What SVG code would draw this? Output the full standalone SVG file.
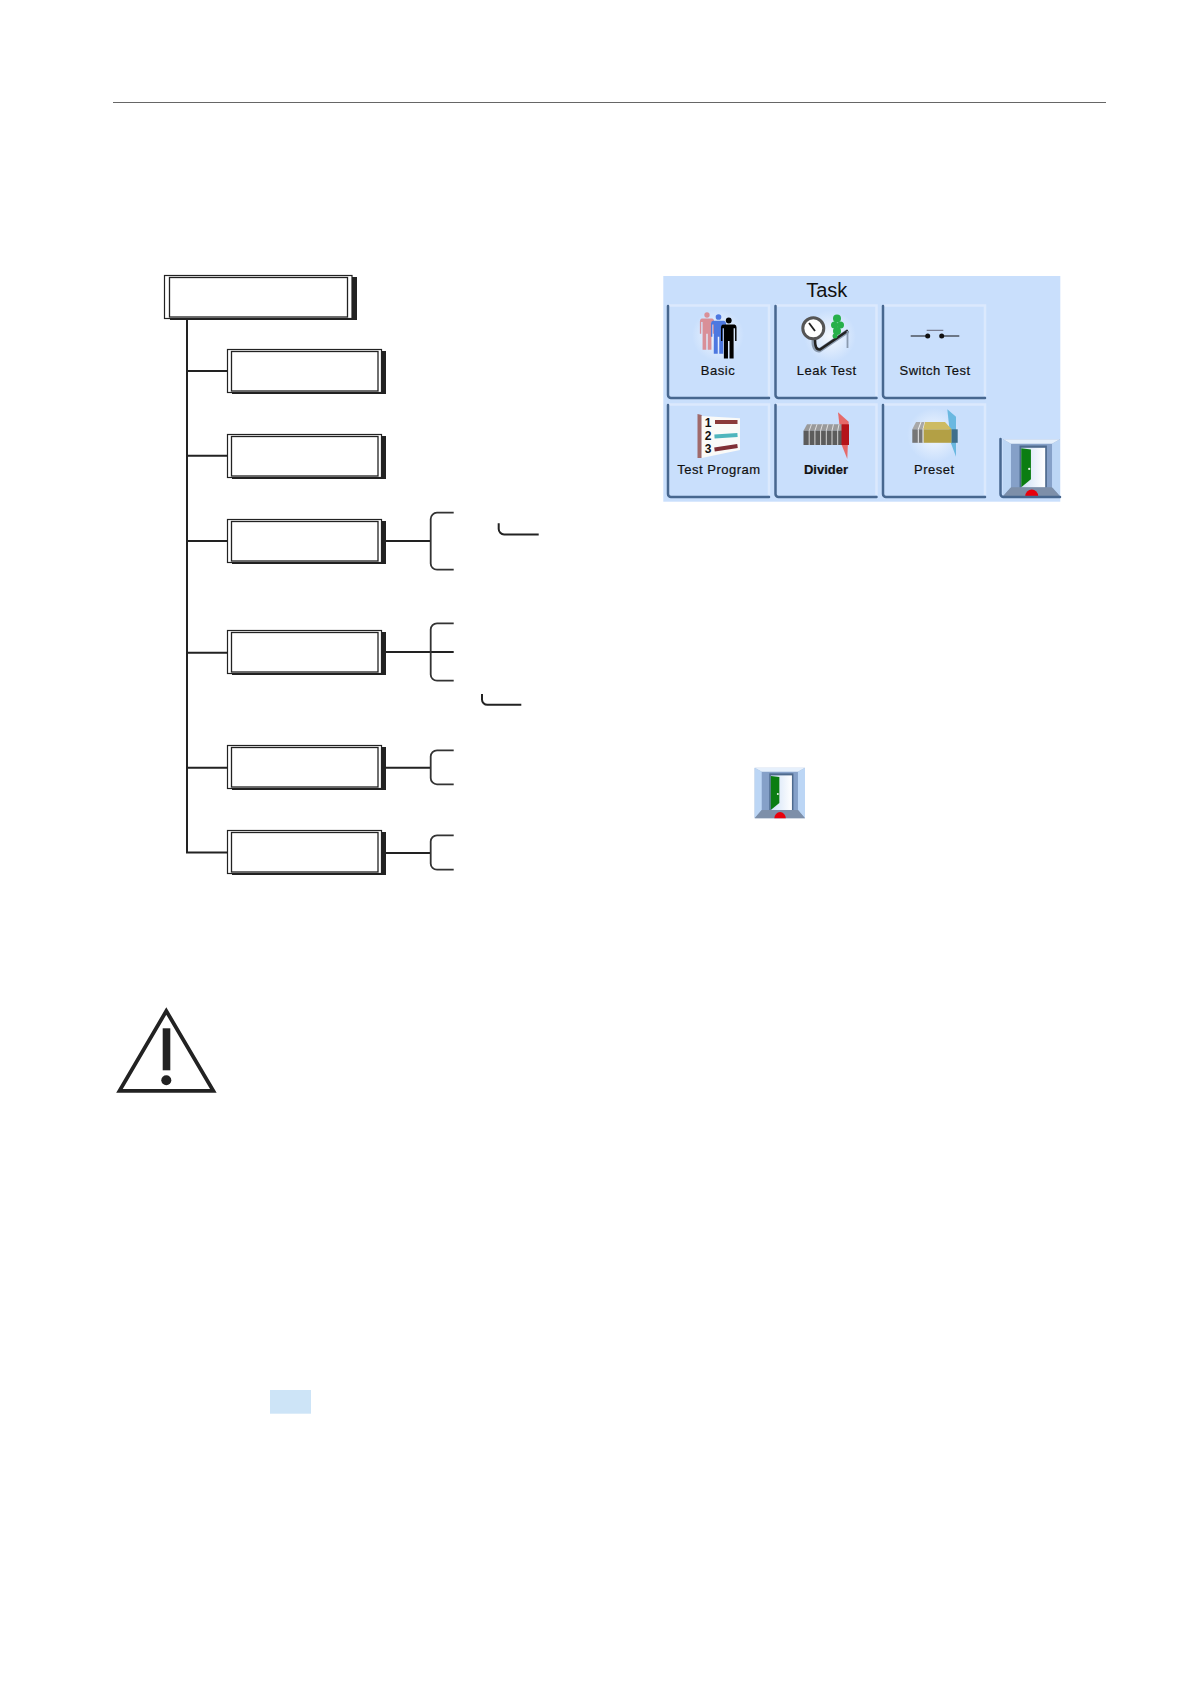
<svg xmlns="http://www.w3.org/2000/svg" xmlns:xlink="http://www.w3.org/1999/xlink" width="1191" height="1684" viewBox="0 0 1191 1684">
<style>
.conn{fill:none;stroke:#222;stroke-width:2}
.brk{fill:none;stroke:#333;stroke-width:1.8}
.shadow{fill:#222}
.outer{fill:#fff;stroke:#222;stroke-width:1.200}
.inner{fill:#fff;stroke:#222;stroke-width:1.300}
.btn{fill:#c9dffc;stroke:none}
.hl{fill:none;stroke:#dbe9fd;stroke-width:2.500}
.edge{fill:none;stroke:#47678f;stroke-width:2.500;stroke-linecap:round}
.lbl{font-family:"Liberation Sans",Arial,sans-serif;font-size:13px;letter-spacing:.5px;text-anchor:middle;fill:#111;stroke:#111;stroke-width:.2}
.num{font-family:"Liberation Sans",Arial,sans-serif;font-size:12px;font-weight:700;text-anchor:middle;fill:#111}
</style>
<defs>
<radialGradient id="glow"><stop offset="0" stop-color="#f4f8fe"/><stop offset="1" stop-color="#c9dffc"/></radialGradient>
<linearGradient id="open" x1="0" x2="1"><stop offset="0" stop-color="#cfe0f6"/><stop offset="1" stop-color="#fff"/></linearGradient>
<symbol id="door" viewBox="0 0 50 50" overflow="visible">
<rect width="50" height="50" fill="#85a0c8"/>
<polygon points="0,0 7,4 7,42 0,50" fill="#bcd6f5"/>
<polygon points="50,0 43,4 43,42 50,50" fill="#bcd6f5"/>
<polygon points="0,0 50,0 43,4 7,4" fill="#e6f0fc"/>
<rect x="14.5" y="5.500" width="24" height="37" fill="#4e6a8e"/>
<rect x="16" y="7.500" width="21" height="35" fill="url(#open)"/>
<polygon points="16,8 24.500,9 24.500,35 16,42" fill="#0b7d12"/>
<circle cx="23" cy="26" r="1" fill="#e8f5e8"/>
<polygon points="7,42 43,42 50,50 0,50" fill="#7d8fa9"/>
<path d="M19.500 50a5.700 6 0 0 1 11.400 0z" fill="#e8000c"/>
</symbol>
<symbol id="person" viewBox="0 0 18 42" overflow="visible">
<circle cx="9" cy="3" r="3"/>
<path d="M3 7H15Q17 7.500 17 10V24H15.500V11H14V42H9.800V24H8.200V42H4V11H2.500V24H1V10Q1 7.500 3 7Z"/>
</symbol>
</defs>
<rect width="1191" height="1684" fill="#fff"/>
<line id="header-rule" x1="113" y1="102.500" x2="1106" y2="102.500" stroke="#666" stroke-width="1"/>

<g id="connectors">
<path class="conn" d="M187 320V852.500H228"/>
<path class="conn" d="M187 371H228M187 455.700H228M187 541H228M187 652.700H228M187 767.700H228"/>
<path class="conn" d="M386 541H430.700M386 652H453.700M386 767.700H430.700M386 853H430.700"/>
<path class="brk" d="M453.700 512.700H437a6.300 6.300 0 0 0-6.300 6.300V563.400a6.300 6.300 0 0 0 6.300 6.300H453.700"/>
<path class="brk" d="M453.700 623.300H437a6.300 6.300 0 0 0-6.300 6.300V674.400a6.300 6.300 0 0 0 6.300 6.300H453.700"/>
<path class="brk" d="M453.700 750.300H437a6.300 6.300 0 0 0-6.300 6.300V778a6.300 6.300 0 0 0 6.300 6.300H453.700"/>
<path class="brk" d="M453.700 835.300H437a6.300 6.300 0 0 0-6.300 6.300V863.400a6.300 6.300 0 0 0 6.300 6.300H453.700"/>
<path class="conn" d="M498.700 523.300V529a5.400 5.400 0 0 0 5.400 5.400H538.700"/>
<path class="conn" d="M482 694V699.400a5.400 5.400 0 0 0 5.400 5.400H521.300"/>
</g>

<g id="node-root">
<rect class="shadow" x="170" y="277" width="187" height="43"/>
<rect class="outer" x="164.500" y="275.500" width="187.500" height="43"/>
<rect class="inner" x="169.500" y="277.500" width="178" height="39.500"/>
</g>
<g id="node-1"><rect class="shadow" x="232" y="351" width="154" height="43"/><rect class="outer" x="227.500" y="349.500" width="154" height="43"/><rect class="inner" x="231.500" y="351.500" width="146.500" height="39.500"/></g>
<g id="node-2"><rect class="shadow" x="232" y="436" width="154" height="43"/><rect class="outer" x="227.500" y="434.500" width="154" height="43"/><rect class="inner" x="231.500" y="436.500" width="146.500" height="39.500"/></g>
<g id="node-3"><rect class="shadow" x="232" y="521" width="154" height="43"/><rect class="outer" x="227.500" y="519.500" width="154" height="43"/><rect class="inner" x="231.500" y="521.500" width="146.500" height="39.500"/></g>
<g id="node-4"><rect class="shadow" x="232" y="632" width="154" height="43"/><rect class="outer" x="227.500" y="630.500" width="154" height="43"/><rect class="inner" x="231.500" y="632.500" width="146.500" height="39.500"/></g>
<g id="node-5"><rect class="shadow" x="232" y="747" width="154" height="43"/><rect class="outer" x="227.500" y="745.500" width="154" height="43"/><rect class="inner" x="231.500" y="747.500" width="146.500" height="39.500"/></g>
<g id="node-6"><rect class="shadow" x="232" y="832" width="154" height="43"/><rect class="outer" x="227.500" y="830.500" width="154" height="43"/><rect class="inner" x="231.500" y="832.500" width="146.500" height="39.500"/></g>

<g id="task-panel">
<rect x="663.300" y="276" width="397" height="225.700" fill="#c9dffc"/>
<text x="826.700" y="297" font-family="'Liberation Sans',Arial,sans-serif" font-size="20" text-anchor="middle" fill="#111">Task</text>

<g id="btn-basic">
<rect class="btn" x="667.500" y="304.500" width="102.500" height="94.500" rx="3"/>
<path class="hl" d="M669 305.500H769V396"/>
<path class="edge" d="M668 306V395a3 3 0 0 0 3 3H769"/>
<ellipse cx="718" cy="335" rx="26" ry="26" fill="url(#glow)"/>
<use xlink:href="#person" x="699" y="310" width="16" height="42" fill="#d98f98"/>
<use xlink:href="#person" x="710" y="313" width="17" height="42" fill="#4d78e0"/>
<use xlink:href="#person" x="720" y="316.500" width="17.500" height="43" fill="#000"/>
<text class="lbl" x="718" y="375">Basic</text>
</g>

<g id="btn-leak">
<rect class="btn" x="775" y="304.500" width="102.500" height="94.500" rx="3"/>
<path class="hl" d="M776 305.500H876.500V396"/>
<path class="edge" d="M775.500 306V395a3 3 0 0 0 3 3H876.500"/>
<ellipse cx="830" cy="336" rx="26" ry="26" fill="url(#glow)"/>
<path d="M814 338C813 346 815 351 820 350L848 331" fill="none" stroke="#8a9aae" stroke-width="4.500"/>
<path d="M815 339C815 346 816 350 820 349.500L848 330.500" fill="none" stroke="#222" stroke-width="2.500"/>
<path d="M847.500 331V348" fill="none" stroke="#8a9aae" stroke-width="1.800"/>
<circle cx="813.300" cy="328.300" r="10.500" fill="#fff" stroke="#555" stroke-width="3"/>
<path d="M809 323L815 331" stroke="#222" stroke-width="1.800"/>
<g fill="#27b04a"><circle cx="837" cy="318.500" r="4"/><circle cx="834.500" cy="325" r="3.500"/><circle cx="840.500" cy="325" r="3.500"/><circle cx="837" cy="331" r="4"/><circle cx="835" cy="336" r="2.500"/></g>
<text class="lbl" x="826.700" y="375">Leak Test</text>
</g>

<g id="btn-switch">
<rect class="btn" x="882.500" y="304.500" width="103.500" height="94.500" rx="3"/>
<path class="hl" d="M884 305.500H985V396"/>
<path class="edge" d="M883 306V395a3 3 0 0 0 3 3H985"/>
<path d="M910.700 336H928M941.700 336H959.300" stroke="#111" stroke-width="1.200"/>
<circle cx="927.700" cy="336" r="2.500" fill="#111"/>
<circle cx="941.700" cy="336" r="2.500" fill="#111"/>
<path d="M926.700 330.300H943.300" stroke="#667" stroke-width="1"/>
<text class="lbl" x="935" y="375">Switch Test</text>
</g>

<g id="btn-program">
<rect class="btn" x="667.500" y="403.500" width="102.500" height="94.500" rx="3"/>
<path class="hl" d="M669 404.500H769V495"/>
<path class="edge" d="M668 405V494a3 3 0 0 0 3 3H769"/>
<polygon points="697.500,414 701.700,415 701.700,458 697.500,458" fill="#a06a6a"/>
<polygon points="701.700,416 740,418.300 740,450 701.700,458" fill="#fafaf8"/>
<text class="num" x="708" y="426.700">1</text>
<text class="num" x="708" y="440">2</text>
<text class="num" x="708" y="452.700">3</text>
<path d="M715 422H737.500" stroke="#8b3a3a" stroke-width="4"/>
<path d="M714.500 436.500L737.500 435" stroke="#4fb5bd" stroke-width="4"/>
<path d="M714.500 449.500L737.500 446" stroke="#7f2f35" stroke-width="4"/>
<text class="lbl" x="719" y="474">Test Program</text>
</g>

<g id="btn-divider">
<rect class="btn" x="775" y="403.500" width="102.500" height="94.500" rx="3"/>
<path class="hl" d="M776 404.500H876.500V495"/>
<path class="edge" d="M775.500 405V494a3 3 0 0 0 3 3H876.500"/>
<polygon points="838,412.300 848.700,421.700 847.300,459 841.700,445" fill="#e56a6a"/>
<polygon points="803.500,430.700 807,424.300 842,424.300 843.500,430.700" fill="#9a9a9a"/>
<rect x="803.500" y="430.700" width="38.500" height="14.300" fill="#5c5c5c"/>
<rect x="841.500" y="424.300" width="7.500" height="20.700" fill="#b5141a"/>
<path d="M809.200 445V430.700L811.500 424.300M814.900 445V430.700L817 424.300M820.600 445V430.700L822.500 424.300M826.300 445V430.700L828 424.300M832 445V430.700L833.500 424.300M837.700 445V430.700L839 424.300" fill="none" stroke="#f2f2f2" stroke-width=".8"/>
<text class="lbl" style="font-weight:700;letter-spacing:0" x="826" y="474">Divider</text>
</g>

<g id="btn-preset">
<rect class="btn" x="882.500" y="403.500" width="103.500" height="94.500" rx="3"/>
<path class="hl" d="M884 404.500H985V495"/>
<path class="edge" d="M883 405V494a3 3 0 0 0 3 3H985"/>
<ellipse cx="934" cy="435" rx="27" ry="27" fill="url(#glow)"/>
<polygon points="947.300,409.300 956,416.700 956,456.700 951,443.300" fill="#6ab8e0"/>
<polygon points="912.300,429.300 916,422 925,422 923.300,429.300" fill="#a8a8a8"/>
<rect x="912.300" y="429.300" width="11" height="13.500" fill="#767676"/>
<path d="M918.300 442.800V429.300L921 422M923 442.800V429.300L925 422" fill="none" stroke="#f2f2f2" stroke-width="1"/>
<polygon points="923.300,429.300 925,422 945,422 951.700,429.300" fill="#cdbb62"/>
<rect x="923.700" y="429.300" width="28" height="13.500" fill="#b3a045"/>
<rect x="951.700" y="429.300" width="6" height="13.500" fill="#3f6f8c"/>
<text class="lbl" x="934.300" y="474">Preset</text>
</g>

<g id="btn-exit">
<rect class="btn" x="1000" y="437.500" width="60" height="60.500"/>
<use xlink:href="#door" x="1003" y="439" width="57" height="57.500"/>
<path class="edge" d="M1000.500 439V494a3 3 0 0 0 3 3H1060"/>
</g>
</g>

<g id="exit-icon"><use xlink:href="#door" x="754.700" y="767.700" width="50.300" height="50.600"/></g>

<g id="warning-sign">
<path d="M166.300 1011L119.500 1090.800H213.300Z" fill="#fff" stroke="#222" stroke-width="3.800" stroke-linejoin="miter"/>
<rect x="162.700" y="1028.300" width="7.600" height="42" fill="#222"/>
<circle cx="166.300" cy="1080.300" r="5" fill="#222"/>
</g>

<rect id="highlight" x="270" y="1390" width="41" height="23.700" fill="#cde4f7"/>
</svg>
